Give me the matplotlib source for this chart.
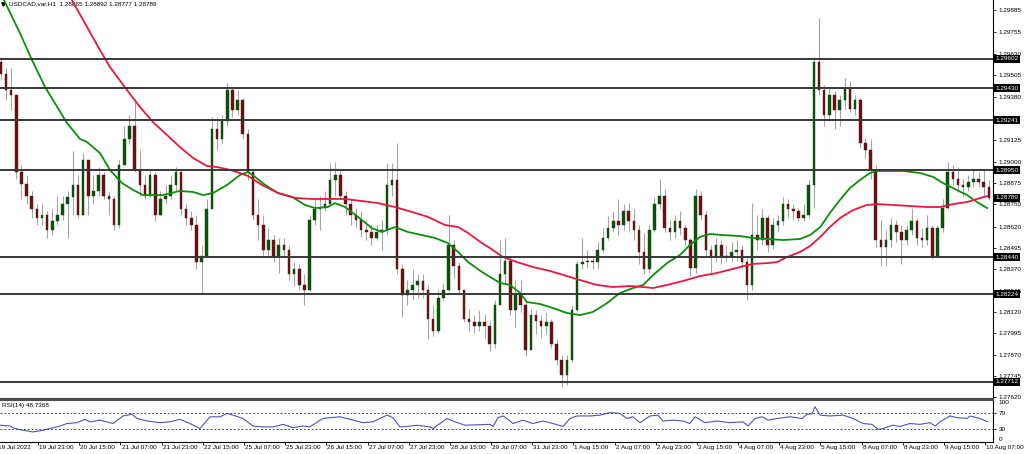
import numpy as np
import matplotlib
matplotlib.use('Agg')
import matplotlib.pyplot as plt
from matplotlib.transforms import blended_transform_factory

plt.rcParams['font.family'] = ['Liberation Sans', 'DejaVu Sans']

# USDCAD H1, resampled to 2-hour candles (hours since 19 Jul 07:00)
first_open = 1.2958
close = [1.2951, 1.2942, 1.2939, 1.2894, 1.2887, 1.2880, 1.2872, 1.2867, 1.2869, 1.2860,
         1.2865, 1.2869, 1.2875, 1.2879, 1.2886, 1.2869, 1.2901, 1.2880, 1.2883, 1.2892,
         1.2880, 1.2878, 1.2863, 1.2898, 1.2913, 1.2921, 1.2895, 1.2886, 1.2880, 1.2892,
         1.2869, 1.2878, 1.2880, 1.2886, 1.2894, 1.2872, 1.2867, 1.2863, 1.2841, 1.2845,
         1.2872, 1.2919, 1.2913, 1.2924, 1.2942, 1.2930, 1.2936, 1.2916, 1.2894, 1.2869,
         1.2863, 1.2848, 1.2854, 1.2845, 1.2851, 1.2848, 1.2834, 1.2837, 1.2828, 1.2825,
         1.2866, 1.2872, 1.2873, 1.2875, 1.2889, 1.2892, 1.2880, 1.2875, 1.2869, 1.2866,
         1.2860, 1.2859, 1.2855, 1.2859, 1.2860, 1.2886, 1.2889, 1.2837, 1.2822, 1.2825,
         1.2828, 1.2830, 1.2825, 1.2808, 1.2801, 1.2820, 1.2825, 1.2851, 1.2839, 1.2825,
         1.2808, 1.2806, 1.2804, 1.2806, 1.2804, 1.2793, 1.2816, 1.2834, 1.2842, 1.2813,
         1.2822, 1.2816, 1.2790, 1.2810, 1.2807, 1.2804, 1.2806, 1.2793, 1.2784, 1.2775,
         1.2784, 1.2813, 1.2840, 1.2841, 1.2842, 1.2841, 1.2848, 1.2855, 1.2861, 1.2865,
         1.2863, 1.2871, 1.2865, 1.2860, 1.2847, 1.2837, 1.2860, 1.2875, 1.2880, 1.2861,
         1.2859, 1.2865, 1.2861, 1.2854, 1.2838, 1.2880, 1.2869, 1.2848, 1.2844, 1.2851,
         1.2845, 1.2844, 1.2847, 1.2848, 1.2841, 1.2828, 1.2857, 1.2854, 1.2867, 1.2851,
         1.2863, 1.2865, 1.2875, 1.2872, 1.2871, 1.2867, 1.2869, 1.2886, 1.2958, 1.2942,
         1.2927, 1.2939, 1.2930, 1.2936, 1.2943, 1.2931, 1.2936, 1.2911, 1.2907, 1.2895,
         1.2854, 1.2850, 1.2854, 1.2863, 1.2859, 1.2854, 1.2860, 1.2865, 1.2855, 1.2854,
         1.2861, 1.2845, 1.2861, 1.2873, 1.2894, 1.2890, 1.2886, 1.2885, 1.2888, 1.2890,
         1.2888, 1.2885, 1.28789]
high = [1.2961, 1.2955, 1.2955, 1.2936, 1.2898, 1.2892, 1.2883, 1.2875, 1.2875, 1.2871,
        1.2872, 1.2880, 1.2880, 1.2883, 1.2906, 1.2892, 1.2905, 1.2898, 1.2892, 1.2897,
        1.2894, 1.2883, 1.2880, 1.2901, 1.2921, 1.2927, 1.2936, 1.2907, 1.2892, 1.2895,
        1.2894, 1.2883, 1.2886, 1.2892, 1.2897, 1.2894, 1.2875, 1.2871, 1.2869, 1.2851,
        1.2878, 1.2926, 1.2926, 1.2927, 1.2946, 1.2943, 1.2942, 1.2937, 1.2919, 1.2895,
        1.2878, 1.2869, 1.2861, 1.2857, 1.2855, 1.2855, 1.2851, 1.2841, 1.2840, 1.2834,
        1.2869, 1.2878, 1.2880, 1.2883, 1.2899, 1.2900, 1.2895, 1.2883, 1.2878, 1.2873,
        1.2871, 1.2866, 1.2863, 1.2863, 1.2866, 1.2899, 1.2899, 1.2911, 1.2840, 1.2831,
        1.2837, 1.2834, 1.2834, 1.2828, 1.2816, 1.2825, 1.2829, 1.2869, 1.2854, 1.2841,
        1.2825, 1.2814, 1.2810, 1.2813, 1.2811, 1.2807, 1.2819, 1.2854, 1.2855, 1.2845,
        1.2831, 1.2831, 1.2819, 1.2814, 1.2813, 1.2810, 1.2812, 1.2808, 1.2796, 1.2787,
        1.2787, 1.2816, 1.2842, 1.2855, 1.2848, 1.2845, 1.2853, 1.2861, 1.2868, 1.2871,
        1.2878, 1.2875, 1.2876, 1.2872, 1.2863, 1.2858, 1.2863, 1.2879, 1.2890, 1.2884,
        1.2866, 1.2869, 1.2871, 1.2863, 1.2855, 1.2884, 1.2883, 1.2871, 1.2851, 1.2855,
        1.2854, 1.2851, 1.2853, 1.2854, 1.2851, 1.2845, 1.2876, 1.2869, 1.2872, 1.2869,
        1.2867, 1.2869, 1.2879, 1.2878, 1.2875, 1.2873, 1.2875, 1.2890, 1.2961, 1.2984,
        1.2945, 1.2943, 1.2941, 1.2939, 1.2949, 1.2947, 1.2939, 1.2937, 1.2914, 1.2913,
        1.2898, 1.2866, 1.2860, 1.2867, 1.2866, 1.2863, 1.2863, 1.2873, 1.2867, 1.2861,
        1.2869, 1.2863, 1.2863, 1.2878, 1.2900, 1.2898, 1.2897, 1.2890, 1.2892, 1.2895,
        1.2894, 1.2895, 1.28892]
low = [1.2948, 1.2936, 1.2930, 1.2890, 1.2878, 1.2875, 1.2867, 1.2863, 1.2863, 1.2855,
       1.2857, 1.2863, 1.2866, 1.2855, 1.2869, 1.2867, 1.2872, 1.2869, 1.2875, 1.2880,
       1.2878, 1.2869, 1.2860, 1.2861, 1.2898, 1.2910, 1.2894, 1.2880, 1.2878, 1.2879,
       1.2865, 1.2872, 1.2875, 1.2878, 1.2883, 1.2869, 1.2863, 1.2860, 1.2837, 1.2823,
       1.2844, 1.2875, 1.2907, 1.2911, 1.2921, 1.2926, 1.2927, 1.2913, 1.2889, 1.2866,
       1.2854, 1.2844, 1.2844, 1.2841, 1.2835, 1.2845, 1.2831, 1.2827, 1.2825, 1.2816,
       1.2824, 1.2863, 1.2860, 1.2871, 1.2875, 1.2880, 1.2878, 1.2869, 1.2863, 1.2861,
       1.2856, 1.2854, 1.2851, 1.2854, 1.2848, 1.2857, 1.2880, 1.2834, 1.2809, 1.2816,
       1.2819, 1.2820, 1.2820, 1.2796, 1.2798, 1.2800, 1.2819, 1.2824, 1.2832, 1.2822,
       1.2806, 1.2801, 1.2800, 1.2801, 1.2797, 1.2789, 1.2791, 1.2816, 1.2828, 1.2810,
       1.2803, 1.2812, 1.2786, 1.2794, 1.2799, 1.2797, 1.2799, 1.2791, 1.2781, 1.2768,
       1.2769, 1.2783, 1.2812, 1.2837, 1.2838, 1.2837, 1.2838, 1.2847, 1.2854, 1.2859,
       1.2857, 1.2860, 1.2859, 1.2854, 1.2840, 1.2834, 1.2835, 1.2859, 1.2872, 1.2859,
       1.2854, 1.2855, 1.2857, 1.2851, 1.2833, 1.2835, 1.2866, 1.2845, 1.2835, 1.2841,
       1.2840, 1.2841, 1.2841, 1.2842, 1.2837, 1.2819, 1.2825, 1.2848, 1.2851, 1.2847,
       1.2849, 1.2859, 1.2863, 1.2867, 1.2866, 1.2865, 1.2865, 1.2867, 1.2873, 1.2939,
       1.2921, 1.2924, 1.2919, 1.2921, 1.2931, 1.2929, 1.2927, 1.2908, 1.2902, 1.2890,
       1.2850, 1.2839, 1.2839, 1.2850, 1.2853, 1.2840, 1.2851, 1.2857, 1.2851, 1.2850,
       1.2851, 1.2843, 1.2844, 1.2859, 1.2872, 1.2886, 1.2882, 1.2880, 1.2883, 1.2885,
       1.2885, 1.2880, 1.28777]

# moving averages (hour, price)
ma_fast_t = [0, 1.2, 8.9, 13.6, 18.7, 27.2, 32.3, 35.0, 40.0, 43.9, 48.6, 52.9, 56.7, 64.5, 71.1, 76.2,
             80.1, 84.0, 89.4, 94.4, 97.6, 100.3, 104.2, 109.2, 114.7, 119.7, 123.6, 128.6, 131.4,
             135.3, 140.3, 145.7, 149.6, 154.7, 159.7, 165.2, 170.2, 175.3, 179.2, 183.1, 188.5,
             191.6, 195.5, 199.4, 203.3, 206.0, 211.0, 216.1, 221.5, 226.6, 231.6, 237.1, 242.1,
             247.2, 251.1, 255.0, 260.4, 265.4, 269.3, 273.2, 277.1, 282.2, 288.8, 293.8, 299.3,
             305.5, 312.1, 316.0, 320.0, 323.7, 327.6, 331.5, 335.4, 339.3, 342.0, 347.1, 352.1,
             358.7, 363.8, 367.7, 371.5, 377.0, 380.9, 384.8]
ma_fast = [1.30020, 1.29992, 1.29752, 1.29594, 1.29436, 1.29225, 1.29132, 1.29114, 1.29050, 1.28951,
           1.28874, 1.28834, 1.28804, 1.28804, 1.28828, 1.28822, 1.28804, 1.28816, 1.28863, 1.28921,
           1.28939, 1.28910, 1.28863, 1.28816, 1.28793, 1.28746, 1.28728, 1.28734, 1.28757, 1.28734,
           1.28676, 1.28611, 1.28588, 1.28617, 1.28588, 1.28570, 1.28553, 1.28523, 1.28471, 1.28412,
           1.28354, 1.28325, 1.28290, 1.28278, 1.28231, 1.28178, 1.28167, 1.28143, 1.28114, 1.28102,
           1.28120, 1.28172, 1.28231, 1.28260, 1.28278, 1.28336, 1.28406, 1.28453, 1.28512, 1.28559,
           1.28576, 1.28570, 1.28564, 1.28553, 1.28547, 1.28541, 1.28547, 1.28570, 1.28617, 1.28699,
           1.28775, 1.28845, 1.28892, 1.28933, 1.28945, 1.28945, 1.28945, 1.28933, 1.28910, 1.28874,
           1.28845, 1.28804, 1.28763, 1.28728]
ma_slow_t = [26.4, 29.1, 35.0, 40.0, 43.9, 50.5, 55.6, 60.6, 66.1, 71.1, 76.2, 81.6, 85.5, 90.6, 94.4,
             97.6, 103.0, 109.2, 115.8, 122.4, 128.6, 135.3, 141.9, 148.1, 154.7, 161.3, 167.5, 174.1,
             179.2, 183.1, 188.5, 191.6, 196.7, 202.1, 208.3, 214.9, 221.5, 226.6, 233.2, 239.4, 246.0,
             251.1, 255.0, 260.4, 266.6, 273.2, 279.8, 288.8, 293.8, 299.3, 303.2, 307.0, 312.1, 316.0,
             320.0, 323.7, 327.6, 332.7, 338.1, 342.0, 348.2, 354.8, 361.4, 366.5, 371.5, 377.0, 380.9,
             384.8]
ma_slow = [1.30015, 1.29945, 1.29787, 1.29653, 1.29553, 1.29419, 1.29319, 1.29231, 1.29155, 1.29085,
           1.29021, 1.28974, 1.28968, 1.28951, 1.28933, 1.28915, 1.28863, 1.28816, 1.28787, 1.28781,
           1.28781, 1.28781, 1.28769, 1.28757, 1.28734, 1.28705, 1.28676, 1.28629, 1.28617, 1.28582,
           1.28523, 1.28494, 1.28441, 1.28412, 1.28383, 1.28360, 1.28330, 1.28307, 1.28278, 1.28266,
           1.28272, 1.28266, 1.28260, 1.28278, 1.28301, 1.28330, 1.28348, 1.28383, 1.28401, 1.28406,
           1.28412, 1.28441, 1.28471, 1.28506, 1.28559, 1.28617, 1.28669, 1.28716, 1.28746, 1.28751,
           1.28746, 1.28740, 1.28734, 1.28734, 1.28751, 1.28763, 1.28781, 1.28798]

# RSI(14)
rsi_t = [1.2, 5.1, 7.0, 10.1, 14.0, 17.9, 21.8, 24.5, 27.2, 31.1, 34.2, 36.1, 40.0, 45.1, 49.0, 52.5,
         54.4, 58.3, 63.4, 67.2, 71.1, 75.0, 78.9, 82.8, 86.7, 89.4, 91.7, 95.6, 99.5, 103.4, 107.3,
         111.2, 115.0, 118.9, 121.6, 126.7, 129.4, 133.3, 137.2, 142.2, 146.1, 151.6, 153.9, 156.6,
         159.3, 163.2, 168.3, 169.5, 172.2, 174.9, 178.0, 181.9, 186.6, 191.6, 192.8, 194.7, 196.7,
         199.4, 200.5, 204.4, 208.3, 212.2, 216.1, 220.0, 222.7, 225.4, 230.5, 234.4, 238.2, 242.1,
         244.8, 247.2, 249.9, 253.8, 256.9, 258.8, 262.7, 266.6, 269.3, 271.3, 275.2, 279.8, 284.9,
         289.9, 291.9, 294.6, 297.3, 299.7, 303.1, 308.2, 312.9, 314.8, 316.8, 317.9, 319.9, 323.7,
         328.8, 332.7, 336.6, 340.1, 342.4, 344.3, 348.2, 351.0, 354.8, 358.7, 362.6, 364.6, 366.5,
         370.4, 373.1, 377.0, 378.2, 382.0, 384.8]
rsi = [40, 38, 32, 28, 24, 28, 34, 38, 44, 46, 54, 48, 52, 44, 62, 66,
       56, 50, 46, 48, 54, 44, 32, 60, 60, 68, 64, 56, 38, 36, 36,
       42, 34, 38, 36, 56, 58, 60, 54, 46, 48, 64, 58, 36,
       37, 40, 36, 32, 44, 56, 48, 40, 41, 42, 37, 58, 62,
       50, 44, 52, 44, 50, 44, 37, 56, 62, 62, 64, 70, 68,
       56, 60, 46, 62, 64, 50, 52, 50, 44, 60, 46, 50, 46,
       48, 38, 56, 60, 52, 56, 60, 56, 66, 67, 84, 64, 62,
       64, 56, 44, 42, 30, 32, 40, 37, 44, 42, 46, 38, 48,
       62, 58, 56, 62, 56, 48.7368]

levels = [1.29602, 1.29430, 1.29241, 1.28950, 1.28440, 1.28224, 1.27712]
last_price = 1.28789
price_ticks = [1.29885, 1.29755, 1.29630, 1.29505, 1.29380, 1.29125, 1.29000, 1.28875,
               1.28750, 1.28620, 1.28495, 1.28370, 1.28245, 1.28120, 1.27995, 1.27870, 1.27745, 1.27620]
time_labels = ['19 Jul 2022', '19 Jul 23:00', '20 Jul 15:00', '21 Jul 07:00', '21 Jul 23:00',
               '22 Jul 15:00', '25 Jul 07:00', '25 Jul 23:00', '26 Jul 15:00', '27 Jul 07:00',
               '27 Jul 23:00', '28 Jul 15:00', '29 Jul 07:00', '31 Jul 23:00', '1 Aug 15:00',
               '2 Aug 07:00', '2 Aug 23:00', '3 Aug 15:00', '4 Aug 07:00', '4 Aug 23:00',
               '5 Aug 15:00', '8 Aug 07:00', '8 Aug 23:00', '9 Aug 15:00', '10 Aug 07:00']
title = 'USDCAD.var,H1  1.28865 1.28892 1.28777 1.28789'
rsi_title = 'RSI(14) 48.7368'

fs = 4.6
fig = plt.figure(figsize=(10.24, 4.54), dpi=100)
ax = fig.add_axes([0, 55 / 454, 993 / 1024, 399 / 454])
axr = fig.add_axes([0, 12 / 454, 993 / 1024, 42 / 454], sharex=ax)

c = np.array(close)
o = np.concatenate([[first_open], c[:-1]])
hi = np.maximum(np.array(high), np.maximum(o, c))
lo = np.minimum(np.array(low), np.minimum(o, c))
t = np.arange(len(c)) * 2 + 1.5

ax.vlines(t, lo, hi, color='#a6a6a6', lw=0.8, zorder=2)
up = c >= o
body_lo = np.minimum(o, c)
body_h = np.maximum(np.abs(c - o), 0.00003)
cols = np.where(up, '#0b4f0b', '#641212')
ax.bar(t, body_h, bottom=body_lo, width=1.0, color=cols, edgecolor=cols, lw=0.3, zorder=3)

ax.plot(ma_fast_t, ma_fast, color='#0a8f0a', lw=1.3, zorder=4)
ax.plot(ma_slow_t, ma_slow, color='#e8183c', lw=1.3, zorder=4)

for lv in levels:
    ax.axhline(lv, color='#383838', lw=1.4, zorder=5)

ax.set_xlim(1.17, 387.1)
ax.set_ylim(1.27611, 1.29945)
ax.yaxis.tick_right()
ax.set_yticks(price_ticks)
ax.set_yticklabels(['%.5f' % p for p in price_ticks])
ax.tick_params(axis='y', labelsize=fs, length=2.5, width=0.6, pad=1.5)
ax.tick_params(axis='x', bottom=False, labelbottom=False)
for s in ['top', 'left']:
    ax.spines[s].set_visible(False)
ax.spines['right'].set_linewidth(0.8)
ax.spines['bottom'].set_linewidth(1.5)
ax.spines['bottom'].set_color('#4d4d4d')

trans = blended_transform_factory(ax.transAxes, ax.transData)
for lv in levels + [last_price]:
    ax.text(1.0025, lv, '%.5f' % lv, transform=trans, ha='left', va='center', fontsize=fs,
            color='white', zorder=10, clip_on=False,
            bbox=dict(boxstyle='square,pad=0.25', fc='black', ec='none'))

ax.text(0.009, 0.997, title, transform=ax.transAxes, ha='left', va='top', fontsize=fs, color='black')
ax.plot([0.003], [0.99], transform=ax.transAxes, marker='v', ms=2.5, color='black', clip_on=False)

# RSI panel
axr.plot(rsi_t, rsi, color='#5151c4', lw=0.8)
for lv in [70, 30]:
    axr.axhline(lv, color='#4a4a4a', lw=0.7, ls=(0, (2, 2)))
axr.set_ylim(0, 100)
axr.yaxis.tick_right()
axr.set_yticks([70, 30])
axr.set_yticklabels(['70', '30'])
axr.tick_params(axis='y', labelsize=fs, length=2.5, width=0.6, pad=1.5)
rtrans = blended_transform_factory(axr.transAxes, axr.transData)
axr.text(1.006, 100, '100', transform=rtrans, ha='left', va='top', fontsize=fs)
axr.text(1.006, 0, '0', transform=rtrans, ha='left', va='bottom', fontsize=fs)
axr.text(0.002, 0.93, rsi_title, transform=axr.transAxes, ha='left', va='top', fontsize=fs)
axr.spines['left'].set_visible(False)
axr.spines['top'].set_linewidth(1.5)
axr.spines['top'].set_color('#4d4d4d')
axr.spines['right'].set_linewidth(0.8)
axr.spines['bottom'].set_linewidth(0.8)

tick_t = np.arange(len(time_labels)) * 16
axr.set_xticks(tick_t[1:])
axr.tick_params(axis='x', labelbottom=False, length=2.5, width=0.6)
xtrans = blended_transform_factory(axr.transData, axr.transAxes)
for tt, lab in zip(tick_t, time_labels):
    axr.text(tt + 0.4, -0.06, lab, transform=xtrans, ha='left', va='top', fontsize=fs,
             clip_on=False)

fig.savefig('out.png', dpi=100, facecolor='white')
